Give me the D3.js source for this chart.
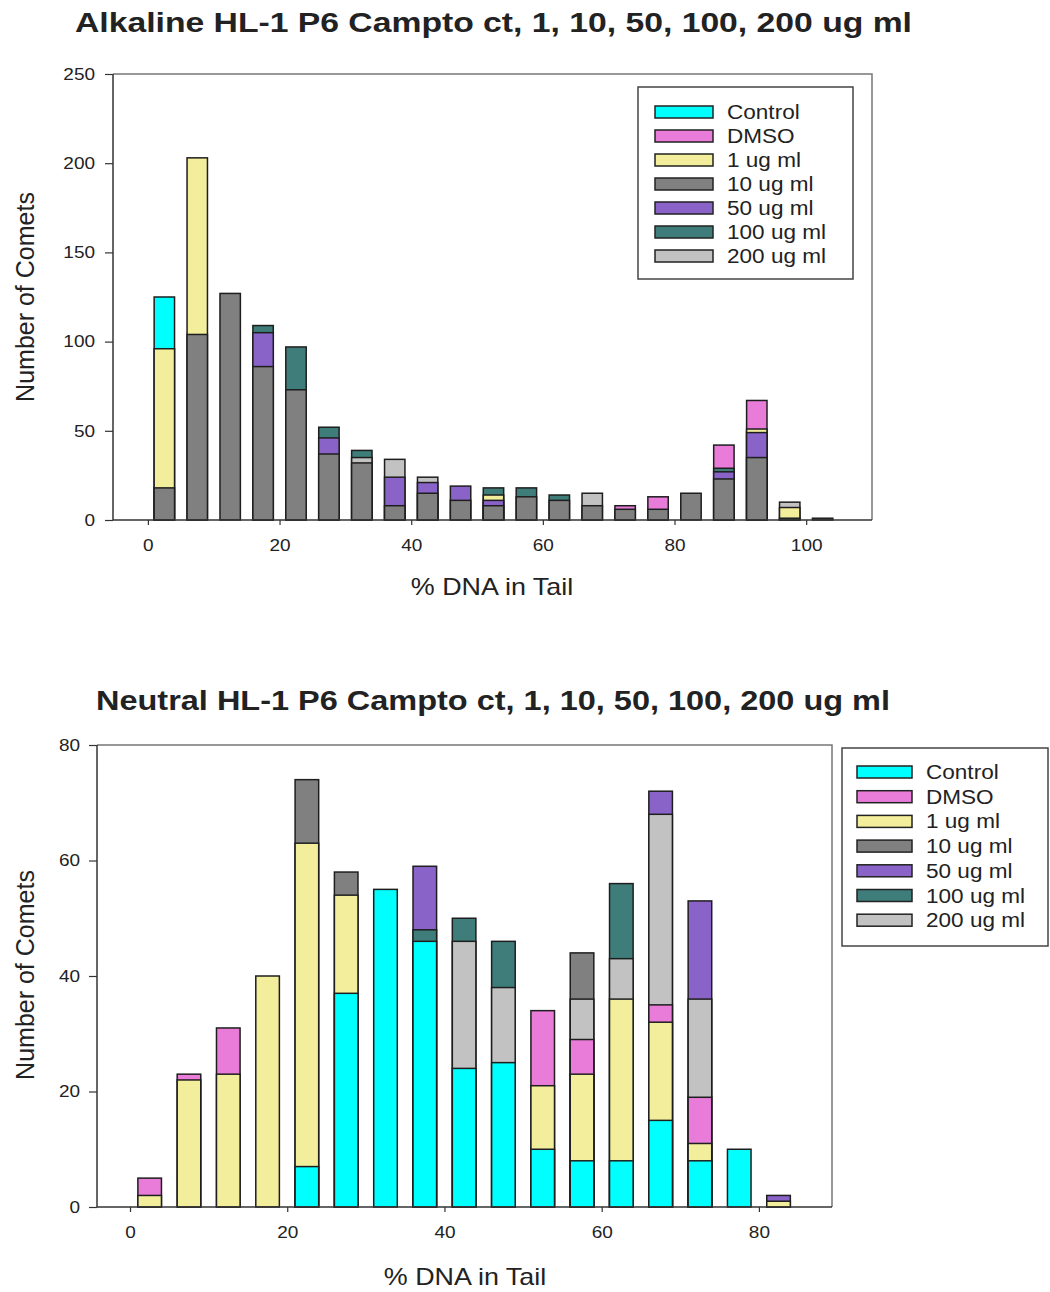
<!DOCTYPE html>
<html>
<head>
<meta charset="utf-8">
<script src="https://cdn.jsdelivr.net/npm/d3@7"></script>
<style>
    body { margin: 0; background: #fff; }
    text { font-family: "Liberation Sans", Arial, sans-serif; fill: #222; }
</style>
</head>
<body>
<script>
(function(d3) {
    'use strict';

    var seriesNames = ['Control', 'DMSO', '1 ug ml', '10 ug ml', '50 ug ml', '100 ug ml', '200 ug ml'];
    var seriesColors = ['#00ffff', '#e87cd8', '#f2ee9b', '#808080', '#8a63c9', '#3e7d7a', '#c2c2c2'];

    // alkaline panel, bins of 5 % (centres)
    var alkBins = [2.5, 7.5, 12.5, 17.5, 22.5, 27.5, 32.5, 37.5, 42.5, 47.5, 52.5, 57.5, 62.5, 67.5, 72.5, 77.5, 82.5, 87.5, 92.5, 97.5, 102.5];
    var alkControl = [125, 0, 0, 0, 0, 0, 0, 0, 0, 0, 0, 0, 0, 0, 0, 0, 0, 0, 0, 0, 0];
    var alkDmso    = [0, 0, 0, 0, 0, 0, 0, 0, 0, 0, 0, 0, 0, 0, 8, 13, 0, 42, 67, 0, 0];
    var alk1       = [96, 203, 0, 0, 0, 0, 0, 0, 0, 0, 14, 0, 0, 0, 0, 0, 0, 0, 51, 7, 0];
    var alk10      = [18, 104, 127, 86, 73, 37, 32, 8, 15, 11, 8, 13, 11, 8, 6, 6, 15, 23, 35, 1, 1];
    var alk50      = [0, 0, 0, 105, 0, 46, 0, 24, 21, 19, 11, 0, 0, 0, 0, 0, 0, 27, 49, 0, 0];
    var alk100     = [0, 0, 0, 109, 97, 52, 39, 0, 0, 0, 18, 18, 14, 0, 0, 0, 0, 29, 0, 0, 0];
    var alk200     = [0, 0, 0, 0, 0, 0, 35, 34, 24, 0, 0, 0, 0, 15, 0, 0, 0, 0, 0, 10, 0];
    var alkYTicks = [0, 50, 100, 150, 200, 250];
    var alkXTicks = [0, 20, 40, 60, 80, 100];

    // neutral panel
    var neuBins = [2.5, 7.5, 12.5, 17.5, 22.5, 27.5, 32.5, 37.5, 42.5, 47.5, 52.5, 57.5, 62.5, 67.5, 72.5, 77.5, 82.5];
    var neuControl = [0, 0, 0, 0, 7, 37, 55, 46, 24, 25, 10, 8, 8, 15, 8, 10, 0];
    var neuDmso    = [5, 23, 31, 0, 0, 0, 0, 0, 0, 0, 34, 29, 0, 35, 19, 0, 0];
    var neu1       = [2, 22, 23, 40, 63, 54, 0, 0, 0, 0, 21, 23, 36, 32, 11, 0, 1];
    var neu10      = [0, 0, 0, 0, 74, 58, 0, 0, 0, 0, 0, 44, 0, 0, 0, 0, 0];
    var neu50      = [0, 0, 0, 0, 0, 0, 0, 59, 0, 0, 0, 0, 0, 72, 53, 0, 2];
    var neu100     = [0, 0, 0, 0, 0, 0, 0, 48, 50, 46, 0, 0, 56, 0, 0, 0, 0];
    var neu200     = [0, 0, 0, 0, 0, 0, 0, 0, 46, 38, 0, 36, 43, 68, 36, 0, 0];
    var neuYTicks = [0, 20, 40, 60, 80];
    var neuXTicks = [0, 20, 40, 60, 80];

    var svg = d3.select('body').append('svg')
        .attr('width', 1050)
        .attr('height', 1292);

    function stretch(sel, k) {
        sel.each(function() {
            var w = this.getComputedTextLength();
            d3.select(this).attr('textLength', w * k).attr('lengthAdjust', 'spacingAndGlyphs');
        });
    }

    function drawPanel(p) {
        var x = d3.scaleLinear().domain(p.xDomain).range([p.left, p.right]);
        var y = d3.scaleLinear().domain(p.yDomain).range([p.bottom, p.top]);
        var g = svg.append('g');

        g.append('text')
            .attr('x', p.titleX)
            .attr('y', p.titleY)
            .attr('font-size', 27)
            .attr('font-weight', 'bold')
            .attr('fill', '#111')
            .attr('textLength', p.titleW)
            .attr('lengthAdjust', 'spacingAndGlyphs')
            .text(p.title);

        // frame: top and right
        g.append('path')
            .attr('d', 'M' + p.left + ',' + p.top + 'H' + p.right + 'V' + p.bottom)
            .attr('fill', 'none')
            .attr('stroke', '#777')
            .attr('stroke-width', 1.5);

        // bars, tallest drawn first so all series show
        var bars = [];
        p.bins.forEach(function(b, i) {
            var col = [];
            p.values.forEach(function(vals, si) {
                if (vals[i] > 0) col.push({ bin: b, value: vals[i], s: si });
            });
            col.sort(function(a, c) { return c.value - a.value; });
            bars = bars.concat(col);
        });

        g.selectAll('rect.bar')
            .data(bars)
            .enter()
            .append('rect')
            .attr('class', 'bar')
            .attr('x', function(d) { return x(d.bin - p.barW / 2); })
            .attr('width', function(d) { return x(d.bin + p.barW / 2) - x(d.bin - p.barW / 2); })
            .attr('y', function(d) { return y(d.value); })
            .attr('height', function(d) { return y(0) - y(d.value); })
            .attr('fill', function(d) { return seriesColors[d.s]; })
            .attr('stroke', '#1e1e1e')
            .attr('stroke-width', 1.5);

        var yAxis = g.append('g')
            .attr('transform', 'translate(' + p.left + ',0)')
            .call(d3.axisLeft(y).tickValues(p.yTicks).tickSize(8).tickPadding(p.yPad).tickSizeOuter(0));
        var xAxis = g.append('g')
            .attr('transform', 'translate(0,' + p.bottom + ')')
            .call(d3.axisBottom(x).tickValues(p.xTicks).tickSize(5).tickPadding(p.xPad).tickSizeOuter(0));

        [yAxis, xAxis].forEach(function(a) {
            a.select('.domain').attr('stroke', '#333').attr('stroke-width', 1.5);
            a.selectAll('.tick line').attr('stroke', '#333').attr('stroke-width', 1.2);
            a.selectAll('.tick text')
                .attr('font-size', 16.5)
                .attr('fill', '#222')
                .style('font-family', '"Liberation Sans", Arial, sans-serif');
            stretch(a.selectAll('.tick text'), 1.15);
        });
        // the x axis domain runs the full width
        xAxis.select('.domain').attr('d', 'M' + p.left + ',0H' + p.right);
        yAxis.select('.domain').attr('d', 'M0,' + p.top + 'V' + p.bottom);

        g.append('text')
            .attr('transform', 'translate(' + p.yTitleX + ',' + p.yTitleY + ') rotate(-90)')
            .attr('text-anchor', 'middle')
            .attr('font-size', 25)
            .text('Number of Comets');

        var xt = g.append('text')
            .attr('x', p.xTitleX)
            .attr('y', p.xTitleY)
            .attr('text-anchor', 'middle')
            .attr('font-size', 24)
            .text('% DNA in Tail');
        stretch(xt, 1.12);

        // legend
        var lg = g.append('g');
        lg.append('rect')
            .attr('x', p.legX)
            .attr('y', p.legY)
            .attr('width', p.legW)
            .attr('height', p.legH)
            .attr('fill', '#fff')
            .attr('stroke', '#444')
            .attr('stroke-width', 1.5);
        var item = lg.selectAll('g.item')
            .data(seriesNames)
            .enter()
            .append('g')
            .attr('class', 'item')
            .attr('transform', function(d, i) {
                return 'translate(' + (p.legX + p.swX) + ',' + (p.legY + p.rowY0 + i * p.rowH) + ')';
            });
        item.append('rect')
            .attr('x', 0)
            .attr('y', -6)
            .attr('width', p.swW)
            .attr('height', 12)
            .attr('fill', function(d, i) { return seriesColors[i]; })
            .attr('stroke', '#222')
            .attr('stroke-width', 1.5);
        var lt = item.append('text')
            .attr('x', p.swW + 14)
            .attr('y', 7)
            .attr('font-size', 20.5)
            .text(function(d) { return d; });
        stretch(lt, 1.1);
    }

    drawPanel({
        title: 'Alkaline HL-1 P6 Campto ct, 1, 10, 50, 100, 200 ug ml',
        titleX: 75, titleY: 32, titleW: 837,
        left: 113, right: 872, top: 74, bottom: 520,
        xDomain: [-5.3, 110], yDomain: [0, 250],
        bins: alkBins,
        values: [alkControl, alkDmso, alk1, alk10, alk50, alk100, alk200],
        yTicks: alkYTicks, xTicks: alkXTicks,
        barW: 3.1, yPad: 10, xPad: 14,
        yTitleX: 34, yTitleY: 297,
        xTitleX: 492, xTitleY: 595,
        legX: 638, legY: 87, legW: 215, legH: 192,
        swX: 17, swW: 58, rowY0: 25, rowH: 24
    });

    drawPanel({
        title: 'Neutral HL-1 P6 Campto ct, 1, 10, 50, 100, 200 ug ml',
        titleX: 96, titleY: 710, titleW: 794,
        left: 97, right: 832, top: 745, bottom: 1207,
        xDomain: [-4.2, 89.3], yDomain: [0, 80],
        bins: neuBins,
        values: [neuControl, neuDmso, neu1, neu10, neu50, neu100, neu200],
        yTicks: neuYTicks, xTicks: neuXTicks,
        barW: 3.0, yPad: 9, xPad: 14,
        yTitleX: 34, yTitleY: 975,
        xTitleX: 465, xTitleY: 1285,
        legX: 842, legY: 748, legW: 206, legH: 198,
        swX: 15, swW: 55, rowY0: 24, rowH: 24.7
    });

})(window.d3);
</script>
</body>
</html>
